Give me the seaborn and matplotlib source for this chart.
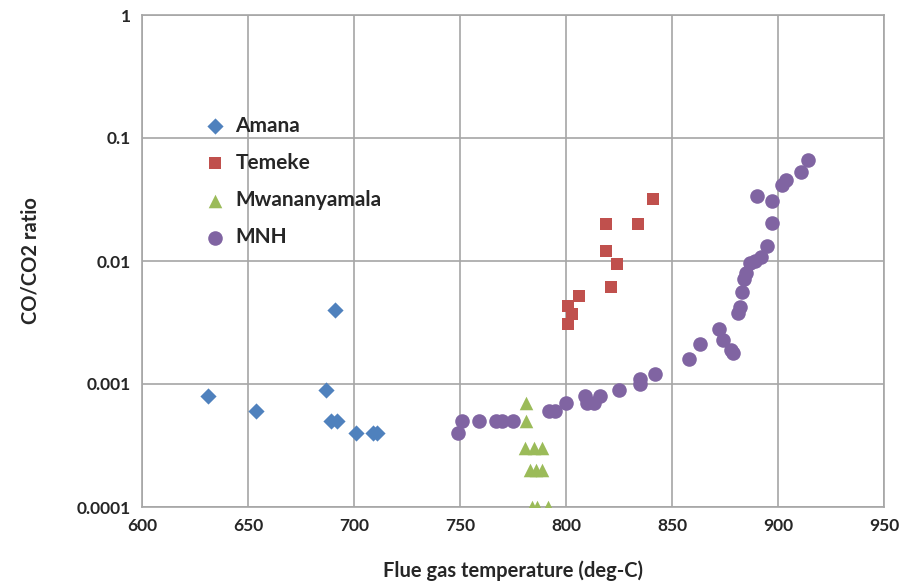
import matplotlib
matplotlib.use("Agg")
import matplotlib.pyplot as plt
import seaborn as sns
import pandas as pd
from matplotlib.ticker import FixedLocator, FixedFormatter, NullLocator

# ---- data ----
amana_x = [631, 654, 687, 691, 689, 692, 701, 709, 711]
amana_y = [0.0008, 0.0006, 0.0009, 0.004, 0.0005, 0.0005, 0.0004, 0.0004, 0.0004]

temeke_x = [841, 819, 834, 819, 824, 821, 806, 801, 803, 801]
temeke_y = [0.032, 0.02, 0.02, 0.012, 0.0095, 0.0062, 0.0052, 0.0043, 0.0037, 0.0031]

mwana_x = [781, 781, 780.5, 785, 788.5, 783, 786, 788.5, 784, 786.5, 791.5]
mwana_y = [0.0007, 0.0005, 0.0003, 0.0003, 0.0003, 0.0002, 0.0002, 0.0002, 0.0001, 0.0001, 0.0001]

mnh_x = [749, 751, 759, 767, 770, 775, 792, 795, 800, 809, 810, 813, 816, 825,
         835, 835, 842, 858, 863, 872, 874, 878, 879, 881, 882, 883, 884, 885,
         887, 889, 892, 895, 897, 897, 890, 902, 904, 911, 914]
mnh_y = [0.0004, 0.0005, 0.0005, 0.0005, 0.0005, 0.0005, 0.0006, 0.0006, 0.0007,
         0.0008, 0.0007, 0.0007, 0.0008, 0.0009, 0.001, 0.0011, 0.0012, 0.0016,
         0.0021, 0.0028, 0.0023, 0.0019, 0.0018, 0.0038, 0.0042, 0.0056, 0.0072,
         0.008, 0.0096, 0.01, 0.0108, 0.0132, 0.0202, 0.0308, 0.034, 0.0415,
         0.0456, 0.0532, 0.066]

series_names = ["Amana", "Temeke", "Mwananyamala", "MNH"]
x_ticks = [600, 650, 700, 750, 800, 850, 900, 950]
y_ticks = [0.0001, 0.001, 0.01, 0.1, 1]
y_tick_labels = ["0.0001", "0.001", "0.01", "0.1", "1"]

# ---- build table ----
frames = []
for name, xs, ys in zip(series_names,
                        [amana_x, temeke_x, mwana_x, mnh_x],
                        [amana_y, temeke_y, mwana_y, mnh_y]):
    frames.append(pd.DataFrame({"temp": xs, "ratio": ys, "site": name}))
df = pd.concat(frames, ignore_index=True)

palette = {"Amana": "#4F81BD", "Temeke": "#C0504D",
           "Mwananyamala": "#9BBB59", "MNH": "#8064A2"}
markers = {"Amana": "D", "Temeke": "s", "Mwananyamala": "^", "MNH": "o"}
sizes = {"Amana": 68, "Temeke": 78, "Mwananyamala": 95, "MNH": 110}

sns.set_style("white")
plt.rcParams["font.family"] = ["Lato", "DejaVu Sans"]

fig = plt.figure(figsize=(9.07, 5.85), dpi=100)
ax = fig.add_axes([142 / 907, 1 - 507 / 585, (884 - 142) / 907, (507 - 15) / 585])

for name in series_names:
    sub = df[df["site"] == name]
    sns.scatterplot(data=sub, x="temp", y="ratio", color=palette[name],
                    marker=markers[name], s=sizes[name], linewidth=0,
                    ax=ax, label=name, zorder=3)

ax.set_yscale("log")
ax.set_xlim(600, 950)
ax.set_ylim(0.0001, 1)
ax.xaxis.set_major_locator(FixedLocator(x_ticks))
ax.set_xticklabels([str(t) for t in x_ticks])
ax.yaxis.set_major_locator(FixedLocator(y_ticks))
ax.yaxis.set_major_formatter(FixedFormatter(y_tick_labels))
ax.yaxis.set_minor_locator(NullLocator())

grid_col = "#A6A6A6"
ax.grid(True, which="major", color=grid_col, linewidth=1.2, zorder=0)
ax.set_axisbelow(True)
for sp in ax.spines.values():
    sp.set_color(grid_col)
    sp.set_linewidth(1.2)
ax.tick_params(axis="both", length=0, labelsize=12.5, pad=8)
for lbl in ax.get_xticklabels() + ax.get_yticklabels():
    lbl.set_fontweight("bold")

ax.set_xlabel("Flue gas temperature (deg-C)", fontsize=14.5, fontweight="bold", labelpad=19)
ax.set_ylabel("CO/CO2 ratio", fontsize=14.5, fontweight="bold", labelpad=26)

leg = ax.legend(loc="upper left", bbox_to_anchor=(0.081, 0.795), frameon=False,
                prop={"weight": "bold", "size": 15}, labelspacing=0.82,
                handlelength=1.2, handletextpad=0.4, borderaxespad=0,
                borderpad=0)

fig.savefig("out.png", dpi=100)
